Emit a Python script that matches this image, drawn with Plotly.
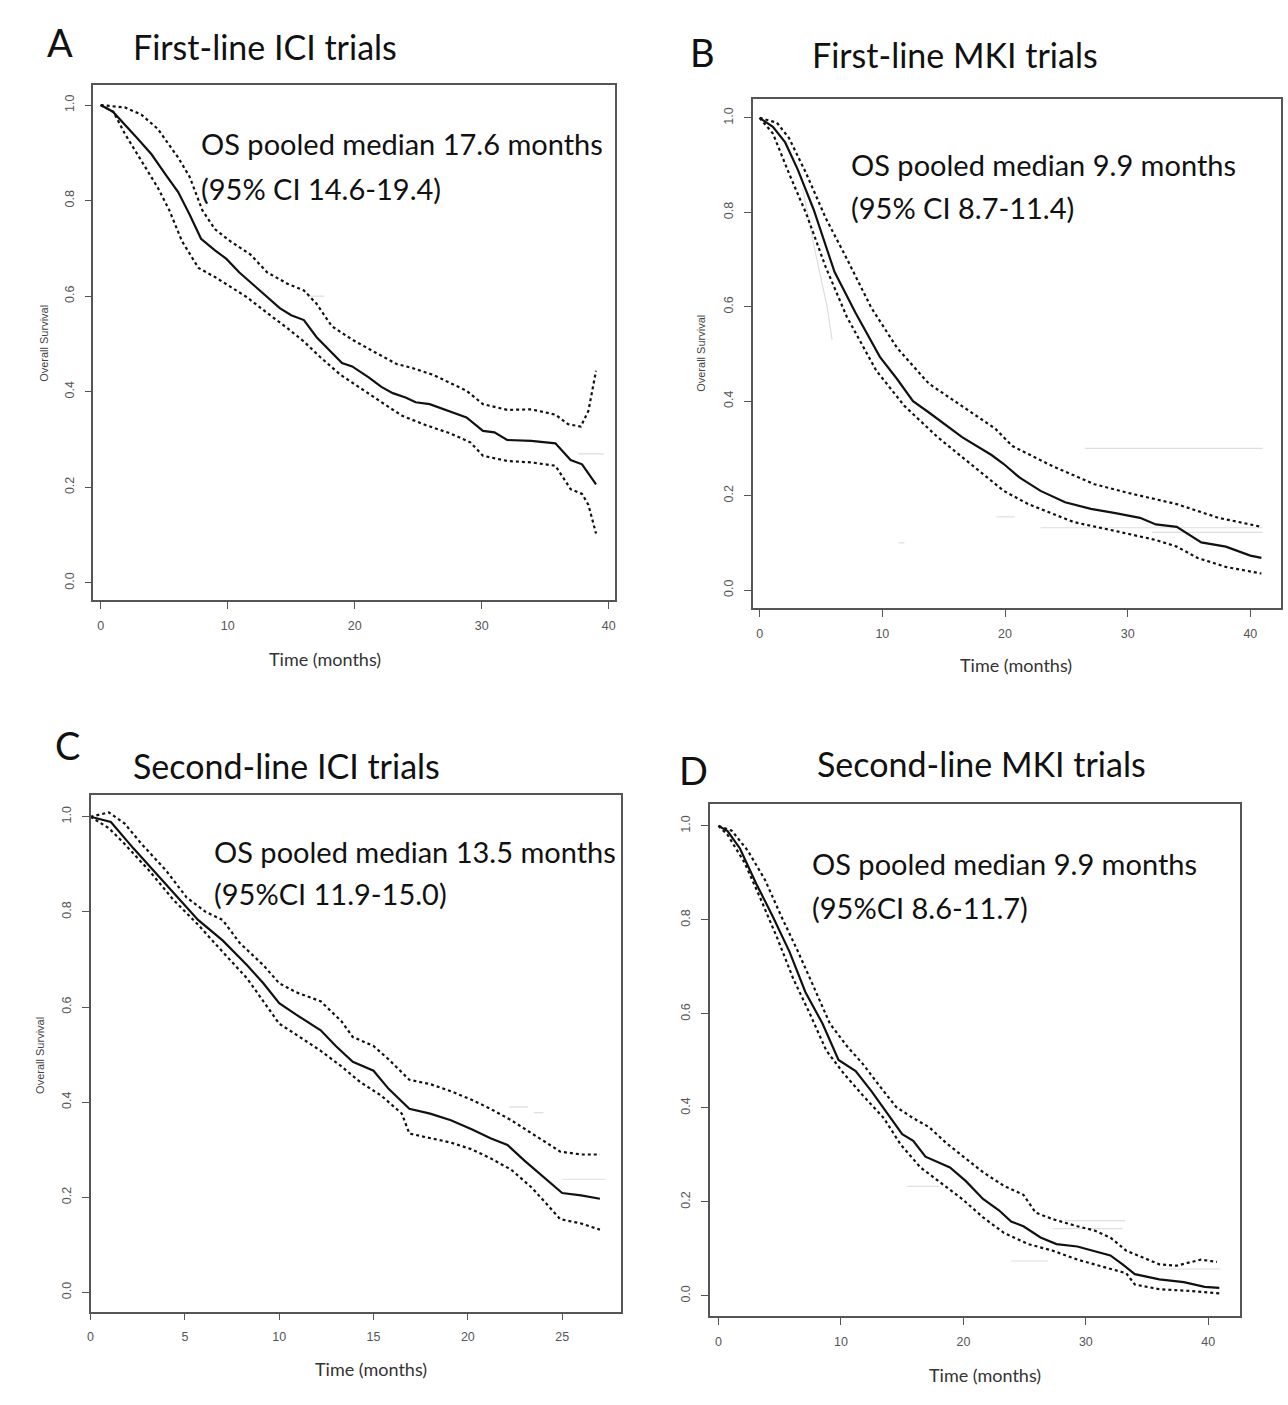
import plotly.graph_objects as go

# ---------------- DATA ----------------
# Panel A: First-line ICI trials
A_main_t = [0, 0.96, 2.9, 4.0, 5.1, 6.1, 7.0, 7.9, 9.0, 9.9, 10.9, 12.2, 13.1, 14.1, 15.0, 16.0, 17.0, 17.9, 19.0, 19.8, 21.1, 22.1, 23.0, 24.0, 24.8, 25.9, 26.9, 27.8, 28.8, 30.1, 31.0, 32.0, 33.9, 35.8, 37.0, 37.9, 39.0]
A_main_s = [1.0, 0.986, 0.93, 0.897, 0.855, 0.818, 0.771, 0.72, 0.696, 0.678, 0.65, 0.62, 0.598, 0.575, 0.56, 0.55, 0.514, 0.49, 0.46, 0.453, 0.43, 0.41, 0.397, 0.388, 0.378, 0.374, 0.364, 0.355, 0.346, 0.318, 0.315, 0.299, 0.297, 0.292, 0.257, 0.248, 0.206]
A_up_t = [0, 1.9, 3.2, 4.5, 6.1, 7.0, 8.0, 9.0, 10.2, 11.8, 13.1, 14.7, 16.0, 17.0, 18.2, 19.8, 21.7, 23.3, 24.6, 26.2, 28.8, 30.1, 32.0, 33.9, 35.8, 36.8, 37.8, 38.4, 39.0]
A_up_s = [1.0, 0.995, 0.98, 0.95, 0.89, 0.85, 0.78, 0.74, 0.715, 0.687, 0.65, 0.626, 0.612, 0.584, 0.537, 0.509, 0.481, 0.458, 0.449, 0.435, 0.402, 0.374, 0.362, 0.363, 0.352, 0.332, 0.327, 0.36, 0.444]
A_lo_t = [0, 1.0, 1.9, 3.2, 4.5, 5.4, 6.4, 7.7, 9.0, 10.2, 11.5, 13.1, 14.7, 16.0, 17.3, 18.9, 20.5, 22.1, 23.7, 25.6, 27.5, 29.1, 30.1, 32.0, 33.9, 35.8, 37.0, 37.9, 38.4, 39.0]
A_lo_s = [1.0, 0.986, 0.94, 0.883, 0.827, 0.78, 0.715, 0.659, 0.64, 0.62, 0.598, 0.565, 0.533, 0.505, 0.472, 0.435, 0.407, 0.379, 0.35, 0.33, 0.313, 0.294, 0.266, 0.255, 0.252, 0.245, 0.196, 0.186, 0.163, 0.103]
A_gray_t = [[37.6, 39.6], [16.3, 17.6]]
A_gray_s = [[0.27, 0.27], [0.60, 0.60]]

# Panel B: First-line MKI trials
B_main_t = [0, 1.08, 2.08, 3.1, 4.4, 6.1, 7.8, 9.8, 11.2, 12.5, 13.8, 16.5, 18.9, 19.9, 21.2, 22.9, 24.9, 27.0, 29.0, 31.0, 32.3, 34.0, 36.0, 38.0, 40.0, 40.9]
B_main_s = [1.0, 0.981, 0.948, 0.891, 0.806, 0.674, 0.588, 0.494, 0.447, 0.40, 0.376, 0.324, 0.286, 0.267, 0.238, 0.21, 0.186, 0.172, 0.163, 0.153, 0.139, 0.134, 0.101, 0.092, 0.073, 0.068]
B_up_t = [0, 1.4, 2.4, 3.8, 5.4, 7.1, 9.1, 11.2, 13.8, 16.5, 19.2, 20.6, 23.9, 27.3, 30.0, 34.0, 37.4, 40.9]
B_up_s = [1.0, 0.99, 0.957, 0.882, 0.787, 0.702, 0.598, 0.513, 0.437, 0.39, 0.342, 0.305, 0.262, 0.224, 0.206, 0.182, 0.153, 0.134]
B_lo_t = [0, 1.08, 2.4, 3.8, 5.4, 7.1, 9.5, 11.8, 14.5, 17.2, 19.9, 21.9, 25.6, 29.0, 32.3, 34.0, 35.7, 38.0, 40.9]
B_lo_s = [1.0, 0.967, 0.882, 0.797, 0.683, 0.579, 0.465, 0.39, 0.324, 0.267, 0.21, 0.182, 0.144, 0.125, 0.106, 0.092, 0.068, 0.049, 0.035]
B_gray_t = [[26.5, 41.0], [22.9, 41.0], [32.0, 41.0], [3.5, 4.5, 5.5, 5.9], [19.3, 20.8], [11.3, 11.8]]
B_gray_s = [[0.30, 0.30], [0.132, 0.132], [0.122, 0.122], [0.85, 0.72, 0.60, 0.53], [0.155, 0.155], [0.10, 0.10]]

# Panel C: Second-line ICI trials
C_main_t = [0, 1.08, 2.26, 3.56, 4.85, 5.7, 7.0, 8.3, 9.16, 10.0, 10.9, 12.2, 13.0, 13.9, 15.0, 15.8, 16.9, 18.0, 19.1, 20.2, 21.2, 22.1, 23.0, 23.8, 25.0, 26.0, 27.0]
C_main_s = [1.0, 0.989, 0.934, 0.877, 0.82, 0.783, 0.74, 0.688, 0.65, 0.608, 0.584, 0.551, 0.518, 0.485, 0.466, 0.428, 0.386, 0.376, 0.362, 0.343, 0.324, 0.31, 0.277, 0.249, 0.209, 0.204, 0.197]
C_up_t = [0, 0.97, 1.8, 2.7, 4.0, 5.1, 6.1, 7.0, 7.9, 9.16, 10.0, 10.9, 12.2, 13.3, 13.9, 15.0, 15.8, 16.9, 18.0, 19.1, 20.2, 21.2, 22.3, 23.4, 24.9, 26.0, 27.0]
C_up_s = [1.0, 1.009, 0.986, 0.943, 0.887, 0.83, 0.80, 0.783, 0.735, 0.688, 0.65, 0.631, 0.612, 0.57, 0.537, 0.518, 0.49, 0.447, 0.438, 0.423, 0.405, 0.386, 0.362, 0.334, 0.296, 0.29, 0.29]
C_lo_t = [0, 0.97, 1.8, 3.1, 4.4, 5.7, 7.0, 8.3, 9.16, 10.0, 10.9, 12.2, 13.3, 14.3, 15.4, 16.5, 16.9, 18.0, 19.1, 20.2, 21.2, 22.3, 23.4, 24.9, 26.0, 27.0]
C_lo_s = [1.0, 0.976, 0.943, 0.887, 0.825, 0.773, 0.716, 0.66, 0.612, 0.565, 0.542, 0.508, 0.475, 0.442, 0.414, 0.376, 0.334, 0.324, 0.315, 0.301, 0.282, 0.258, 0.22, 0.154, 0.145, 0.132]
C_gray_t = [[25.0, 27.3], [23.5, 24.0], [22.2, 23.2]]
C_gray_s = [[0.238, 0.238], [0.378, 0.378], [0.39, 0.39]]

# Panel D: Second-line MKI trials
D_main_t = [0, 0.74, 1.75, 3.1, 4.4, 5.8, 7.1, 8.5, 9.8, 11.2, 12.5, 13.8, 15.0, 15.9, 16.9, 18.9, 20.2, 21.6, 22.9, 23.9, 24.9, 26.3, 27.6, 29.3, 30.7, 32.0, 33.0, 34.0, 36.0, 38.0, 39.7, 40.9]
D_main_s = [1.0, 0.989, 0.952, 0.876, 0.809, 0.732, 0.646, 0.579, 0.502, 0.478, 0.435, 0.388, 0.344, 0.33, 0.296, 0.273, 0.244, 0.206, 0.182, 0.158, 0.148, 0.124, 0.11, 0.105, 0.096, 0.086, 0.067, 0.046, 0.035, 0.029, 0.019, 0.017]
D_up_t = [0, 1.08, 2.4, 3.8, 5.1, 6.5, 7.8, 9.1, 10.5, 11.8, 13.2, 14.5, 15.9, 17.2, 18.6, 20.2, 21.6, 23.3, 24.9, 25.9, 27.3, 29.3, 30.7, 32.0, 33.3, 34.7, 36.0, 37.4, 39.4, 40.7]
D_up_s = [1.0, 0.99, 0.947, 0.885, 0.809, 0.732, 0.656, 0.579, 0.531, 0.493, 0.445, 0.402, 0.378, 0.359, 0.325, 0.292, 0.263, 0.234, 0.215, 0.177, 0.163, 0.148, 0.139, 0.124, 0.096, 0.081, 0.067, 0.064, 0.077, 0.072]
D_lo_t = [0, 0.74, 2.1, 3.4, 4.8, 6.1, 7.5, 8.8, 10.2, 11.8, 13.5, 14.9, 16.5, 18.2, 19.9, 21.6, 23.3, 25.3, 27.3, 29.3, 31.3, 33.3, 34.0, 36.0, 38.7, 40.9]
D_lo_s = [1.0, 0.981, 0.923, 0.847, 0.761, 0.675, 0.598, 0.522, 0.474, 0.426, 0.378, 0.321, 0.273, 0.239, 0.206, 0.167, 0.134, 0.11, 0.096, 0.077, 0.062, 0.048, 0.024, 0.014, 0.01, 0.005]
D_gray_t = [[28.3, 33.2], [27.3, 33.0], [36.0, 41.0], [15.4, 18.0], [23.9, 26.9]]
D_gray_s = [[0.16, 0.16], [0.143, 0.143], [0.057, 0.057], [0.233, 0.233], [0.074, 0.074]]

Y_TICKS = [0.0, 0.2, 0.4, 0.6, 0.8, 1.0]
X_TICKS_40 = [0, 10, 20, 30, 40]
X_TICKS_25 = [0, 5, 10, 15, 20, 25]

LETTERS = ["A", "B", "C", "D"]
TITLES = ["First-line ICI trials", "First-line MKI trials", "Second-line ICI trials", "Second-line MKI trials"]
OS_LINE1 = ["OS pooled median 17.6 months", "OS pooled median 9.9 months",
            "OS pooled median 13.5 months", "OS pooled median 9.9 months"]
OS_LINE2 = ["(95% CI 14.6-19.4)", "(95% CI 8.7-11.4)", "(95%CI 11.9-15.0)", "(95%CI 8.6-11.7)"]
X_TITLE = "Time (months)"
Y_TITLE = "Overall Survival"

# ---------------- LAYOUT ----------------
W, H = 1288, 1405

panels = [
    dict(main=(A_main_t, A_main_s), up=(A_up_t, A_up_s), lo=(A_lo_t, A_lo_s), gray=(A_gray_t, A_gray_s),
         box=(90.6, 614, 85, 600), xr=[-0.58, 40.5], yr=[-0.036, 1.042], xt=X_TICKS_40,
         ytitle=(41, 343), xtitle=(323, 659),
         letter=(57, 42), title=(128, 47), os1=(197, 144), os2=(197, 188)),
    dict(main=(B_main_t, B_main_s), up=(B_up_t, B_up_s), lo=(B_lo_t, B_lo_s), gray=(B_gray_t, B_gray_s),
         box=(752, 1282, 99, 608), xr=[-0.57, 42.5], yr=[-0.038, 1.04], xt=X_TICKS_40,
         ytitle=(700, 353), xtitle=(1016, 665),
         letter=(702, 52), title=(810, 54), os1=(849, 164), os2=(849, 208)),
    dict(main=(C_main_t, C_main_s), up=(C_up_t, C_up_s), lo=(C_lo_t, C_lo_s), gray=(C_gray_t, C_gray_s),
         box=(87.8, 619.6, 795.3, 1311.5), xr=[0, 28.1], yr=[-0.04, 1.045], xt=X_TICKS_25,
         ytitle=(37, 1055), xtitle=(369, 1369),
         letter=(65, 745), title=(128, 765), os1=(210, 851), os2=(210, 893)),
    dict(main=(D_main_t, D_main_s), up=(D_up_t, D_up_s), lo=(D_lo_t, D_lo_s), gray=(D_gray_t, D_gray_s),
         box=(709.4, 1241, 804.3, 1316), xr=[-0.68, 42.6], yr=[-0.043, 1.046], xt=X_TICKS_40,
         ytitle=None, xtitle=(985, 1375),
         letter=(693, 770), title=(815, 763), os1=(810, 863), os2=(810, 907)),
]

TEXT_FONT = "Lato"
TICK_FONT = "Liberation Sans"

fig = go.Figure()
annotations = []
layout_axes = {}


def ann(text, px, py, size, family=TEXT_FONT, color="#111111", xanchor="left", angle=0):
    annotations.append(dict(text=text, x=px / W, y=1 - py / H, xref="paper", yref="paper",
                            xanchor=xanchor, yanchor="middle", showarrow=False, textangle=angle,
                            font=dict(family=family, size=size, color=color)))


for i, p in enumerate(panels):
    k = "" if i == 0 else str(i + 1)
    xa, ya = "x" + k, "y" + k
    x0, x1, y0, y1 = p["box"]
    # faint individual-trial fragments
    for gt, gs in zip(*p["gray"]):
        fig.add_trace(go.Scatter(x=gt, y=gs, mode="lines", xaxis=xa, yaxis=ya,
                                 line=dict(color="#dedede", width=1.2), showlegend=False, hoverinfo="skip"))
    for key, dash in (("up", "dot"), ("lo", "dot"), ("main", "solid")):
        t, s = p[key]
        fig.add_trace(go.Scatter(x=t, y=s, mode="lines", xaxis=xa, yaxis=ya,
                                 line=dict(color="#111111", width=2.2, dash=dash),
                                 showlegend=False))
    common = dict(showline=True, linecolor="#555555", linewidth=1.5, mirror=True,
                  ticks="outside", ticklen=7, tickcolor="#555555", tickwidth=1.2,
                  showgrid=False, zeroline=False,
                  tickfont=dict(family=TICK_FONT, size=12.5, color="#555555"))
    layout_axes["xaxis" + k] = dict(common, domain=[x0 / W, x1 / W], range=p["xr"],
                                    tickvals=p["xt"], anchor=ya, ticklabelstandoff=6)
    layout_axes["yaxis" + k] = dict(common, domain=[1 - y1 / H, 1 - y0 / H], range=p["yr"],
                                    tickvals=Y_TICKS, tickformat=".1f", tickangle=-90,
                                    anchor=xa, ticklabelstandoff=6)
    ann(LETTERS[i], *p["letter"], 38, xanchor="center")
    ann(TITLES[i], *p["title"], 34)
    ann(OS_LINE1[i], *p["os1"], 29)
    ann(OS_LINE2[i], *p["os2"], 29)
    ann(X_TITLE, *p["xtitle"], 18, color="#333333", xanchor="center")
    if p["ytitle"]:
        ann(Y_TITLE, *p["ytitle"], 11, family=TICK_FONT, color="#444444", xanchor="center", angle=-90)

fig.update_layout(width=W, height=H, margin=dict(l=0, r=0, t=0, b=0),
                  paper_bgcolor="white", plot_bgcolor="white",
                  annotations=annotations, showlegend=False, **layout_axes)

fig.write_html("out.html")
